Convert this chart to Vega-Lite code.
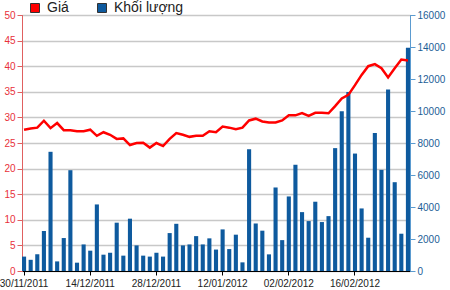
{
  "$schema": "https://vega.github.io/schema/vega-lite/v6.json",
  "width": 388,
  "height": 256,
  "autosize": {"type": "none"},
  "padding": {"left": 22, "top": 15, "right": 40, "bottom": 19},
  "background": "white",
  "config": {"font": "Liberation Sans", "view": {"stroke": "#333", "strokeWidth": 1}},
  "data": {"values": [
    {"d": "30/11/2011", "p": 27.6, "v": 900},
    {"d": "01/12/2011", "p": 27.85, "v": 700},
    {"d": "02/12/2011", "p": 28.0, "v": 1050},
    {"d": "05/12/2011", "p": 29.35, "v": 2500},
    {"d": "06/12/2011", "p": 27.9, "v": 7450},
    {"d": "07/12/2011", "p": 28.9, "v": 600},
    {"d": "08/12/2011", "p": 27.5, "v": 2060},
    {"d": "09/12/2011", "p": 27.47, "v": 6300},
    {"d": "12/12/2011", "p": 27.3, "v": 520},
    {"d": "13/12/2011", "p": 27.3, "v": 1660},
    {"d": "14/12/2011", "p": 27.6, "v": 1270},
    {"d": "15/12/2011", "p": 26.4, "v": 4160},
    {"d": "16/12/2011", "p": 27.1, "v": 1020},
    {"d": "19/12/2011", "p": 26.6, "v": 1140},
    {"d": "20/12/2011", "p": 25.8, "v": 3020},
    {"d": "21/12/2011", "p": 25.9, "v": 960},
    {"d": "22/12/2011", "p": 24.6, "v": 3270},
    {"d": "23/12/2011", "p": 25.0, "v": 1600},
    {"d": "26/12/2011", "p": 25.05, "v": 960},
    {"d": "27/12/2011", "p": 24.1, "v": 900},
    {"d": "28/12/2011", "p": 25.0, "v": 1140},
    {"d": "29/12/2011", "p": 24.4, "v": 900},
    {"d": "30/12/2011", "p": 25.8, "v": 2370},
    {"d": "03/01/2012", "p": 26.95, "v": 2950},
    {"d": "04/01/2012", "p": 26.6, "v": 1600},
    {"d": "05/01/2012", "p": 26.2, "v": 1660},
    {"d": "06/01/2012", "p": 26.4, "v": 2180},
    {"d": "09/01/2012", "p": 26.4, "v": 1660},
    {"d": "10/01/2012", "p": 27.3, "v": 2040},
    {"d": "11/01/2012", "p": 27.1, "v": 1340},
    {"d": "12/01/2012", "p": 28.2, "v": 2600},
    {"d": "13/01/2012", "p": 28.0, "v": 1370},
    {"d": "16/01/2012", "p": 27.7, "v": 2270},
    {"d": "17/01/2012", "p": 28.0, "v": 540},
    {"d": "18/01/2012", "p": 29.4, "v": 7610},
    {"d": "19/01/2012", "p": 29.75, "v": 2970},
    {"d": "20/01/2012", "p": 29.2, "v": 2520},
    {"d": "30/01/2012", "p": 29.0, "v": 1040},
    {"d": "31/01/2012", "p": 29.0, "v": 5220},
    {"d": "01/02/2012", "p": 29.4, "v": 1930},
    {"d": "02/02/2012", "p": 30.4, "v": 4660},
    {"d": "03/02/2012", "p": 30.4, "v": 6640},
    {"d": "06/02/2012", "p": 30.86, "v": 3680},
    {"d": "07/02/2012", "p": 30.3, "v": 3120},
    {"d": "08/02/2012", "p": 30.9, "v": 4330},
    {"d": "09/02/2012", "p": 30.9, "v": 3060},
    {"d": "10/02/2012", "p": 30.8, "v": 3430},
    {"d": "13/02/2012", "p": 32.2, "v": 7680},
    {"d": "14/02/2012", "p": 33.7, "v": 9980},
    {"d": "15/02/2012", "p": 34.4, "v": 11190},
    {"d": "16/02/2012", "p": 36.3, "v": 7340},
    {"d": "17/02/2012", "p": 38.3, "v": 3910},
    {"d": "20/02/2012", "p": 40.0, "v": 2080},
    {"d": "21/02/2012", "p": 40.4, "v": 8630},
    {"d": "22/02/2012", "p": 39.6, "v": 6320},
    {"d": "23/02/2012", "p": 37.8, "v": 11340},
    {"d": "24/02/2012", "p": 39.6, "v": 5550},
    {"d": "27/02/2012", "p": 41.3, "v": 2330},
    {"d": "28/02/2012", "p": 41.1, "v": 13960}
  ]},
  "encoding": {
    "x": {
      "field": "d", "type": "ordinal", "sort": null,
      "scale": {"paddingInner": 0.38, "paddingOuter": 0},
      "axis": {
        "values": ["30/11/2011", "14/12/2011", "28/12/2011", "12/01/2012", "02/02/2012", "16/02/2012"],
        "labelAngle": 0, "title": null, "grid": false,
        "domainColor": "#000", "tickColor": "#000", "tickSize": 4,
        "labelFontSize": 10, "labelColor": "#222", "labelPadding": 3
      }
    }
  },
  "layer": [
    {
      "mark": {"type": "bar", "color": "#0e5a9e"},
      "encoding": {
        "y": {
          "field": "v", "type": "quantitative",
          "scale": {"domain": [0, 16000]},
          "axis": {
            "orient": "right", "values": [0, 2000, 4000, 6000, 8000, 10000, 12000, 14000, 16000],
            "format": "d", "title": null, "grid": false,
            "domainColor": "#5b9bd0", "tickColor": "#5b9bd0", "labelColor": "#1d5e96",
            "tickSize": 5, "labelPadding": 2, "labelFontSize": 10
          }
        },
        "color": {
          "datum": "Khối lượng",
          "scale": {"domain": ["Giá", "Khối lượng"], "range": ["#ff0000", "#0e5a9e"]},
          "legend": {
            "orient": "none", "legendX": 6, "legendY": -14, "direction": "horizontal",
            "title": null, "symbolType": "square", "symbolSize": 81,
            "symbolStrokeColor": "#333", "symbolStrokeWidth": 1,
            "labelFontSize": 14, "labelColor": "#222", "columnPadding": 26, "labelOffset": 5
          }
        }
      }
    },
    {
      "mark": {"type": "line", "color": "#ff0000", "strokeWidth": 2.5},
      "encoding": {
        "y": {
          "field": "p", "type": "quantitative",
          "scale": {"domain": [0, 50]},
          "axis": {
            "orient": "left", "values": [0, 5, 10, 15, 20, 25, 30, 35, 40, 45, 50],
            "title": null, "grid": true, "gridColor": "#c8c8c8", "gridWidth": 1.5,
            "domainColor": "#e06060", "tickColor": "#e06060", "labelColor": "#e8303a",
            "tickSize": 5, "labelPadding": 2, "labelFontSize": 10
          }
        }
      }
    }
  ],
  "resolve": {"scale": {"y": "independent"}}
}
